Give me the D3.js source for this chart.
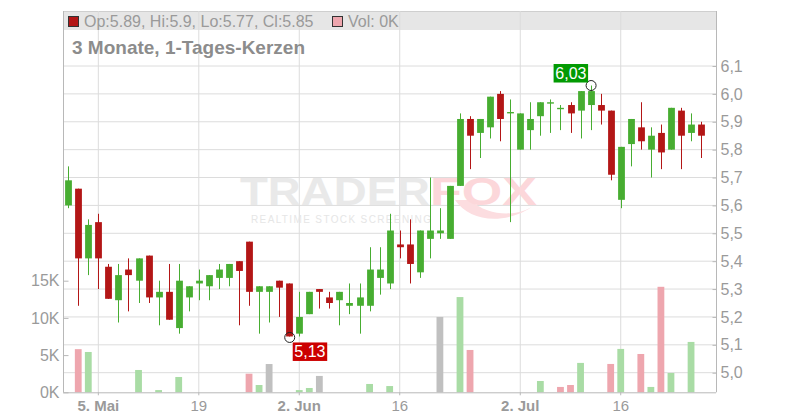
<!DOCTYPE html>
<html><head><meta charset="utf-8">
<script src="https://cdn.jsdelivr.net/npm/d3@7"></script>
<style>body{margin:0;background:#fff}svg{display:block;font-family:"Liberation Sans",Arial,sans-serif}</style>
</head><body><svg id="c" width="800" height="420"></svg>
<script>
const dates = ["2025-04-30","2025-05-01","2025-05-02","2025-05-05","2025-05-06","2025-05-07","2025-05-08","2025-05-09",
"2025-05-12","2025-05-13","2025-05-14","2025-05-15","2025-05-16","2025-05-19","2025-05-20","2025-05-21","2025-05-22","2025-05-23",
"2025-05-26","2025-05-27","2025-05-28","2025-05-29","2025-05-30","2025-06-02","2025-06-03","2025-06-04","2025-06-05","2025-06-06",
"2025-06-09","2025-06-10","2025-06-11","2025-06-12","2025-06-13","2025-06-16","2025-06-17","2025-06-18","2025-06-19","2025-06-20",
"2025-06-23","2025-06-24","2025-06-25","2025-06-26","2025-06-27","2025-06-30","2025-07-01","2025-07-02","2025-07-03","2025-07-04",
"2025-07-07","2025-07-08","2025-07-09","2025-07-10","2025-07-11","2025-07-14","2025-07-15","2025-07-16","2025-07-17","2025-07-18",
"2025-07-21","2025-07-22","2025-07-23","2025-07-24","2025-07-25","2025-07-28"];
const opens = [5.60,5.66,5.41,5.54,5.38,5.26,5.37,5.33,5.42,5.27,5.29,5.16,5.27,5.32,5.31,5.34,5.34,5.40,5.47,5.29,5.29,5.33,5.32,5.14,5.21,5.30,5.27,5.26,5.24,5.24,5.24,5.34,5.32,5.46,5.46,5.36,5.48,5.50,5.48,5.67,5.91,5.86,5.88,6.00,5.93,5.80,5.87,5.92,5.965,5.945,5.96,5.94,5.96,5.96,5.94,5.62,5.82,5.88,5.80,5.86,5.80,5.94,5.86,5.89];
const highs = [5.74,5.66,5.55,5.57,5.39,5.39,5.41,5.41,5.42,5.33,5.39,5.39,5.31,5.37,5.35,5.39,5.39,5.40,5.47,5.31,5.31,5.33,5.32,5.29,5.29,5.30,5.29,5.29,5.32,5.32,5.45,5.45,5.57,5.51,5.55,5.51,5.70,5.59,5.67,5.93,5.92,5.91,5.99,6.01,5.98,5.93,5.97,5.97,5.98,5.96,5.97,6.01,6.03,6.00,5.94,5.81,5.91,5.97,5.88,5.89,5.95,5.95,5.93,5.90];
const lows = [5.59,5.24,5.35,5.30,5.265,5.18,5.22,5.25,5.25,5.17,5.19,5.14,5.22,5.26,5.26,5.30,5.31,5.17,5.24,5.14,5.18,5.20,5.13,5.13,5.21,5.23,5.23,5.17,5.21,5.14,5.22,5.28,5.30,5.41,5.32,5.34,5.41,5.48,5.48,5.67,5.73,5.77,5.84,5.83,5.54,5.80,5.80,5.85,5.86,5.87,5.86,5.84,5.87,5.89,5.69,5.59,5.74,5.80,5.70,5.73,5.80,5.73,5.83,5.77];
const closes = [5.69,5.41,5.53,5.41,5.265,5.35,5.35,5.41,5.27,5.29,5.19,5.33,5.31,5.33,5.35,5.37,5.39,5.365,5.29,5.31,5.31,5.305,5.13,5.20,5.29,5.29,5.25,5.29,5.25,5.27,5.37,5.37,5.51,5.45,5.39,5.51,5.51,5.51,5.67,5.91,5.85,5.91,5.99,5.91,5.935,5.93,5.91,5.97,5.97,5.95,5.93,6.01,6.01,5.94,5.71,5.81,5.91,5.83,5.85,5.79,5.95,5.85,5.89,5.85];
const volumes = [0,5800,5420,0,0,0,0,3000,0,300,0,2060,0,0,0,0,0,0,2500,980,3800,0,0,300,580,2200,0,0,0,0,1120,0,840,0,0,0,0,10130,0,12800,5690,0,0,0,0,0,0,1520,0,720,980,3950,0,0,3810,5830,0,5150,720,14180,2600,0,6770,0];
const priceTicks = [5.0,5.1,5.2,5.3,5.4,5.5,5.6,5.7,5.8,5.9,6.0,6.1];
const volumeTicks = [0,5000,10000,15000];
const xTickDates = ["2025-05-05","2025-05-19","2025-06-02","2025-06-16","2025-07-02","2025-07-16"];
const xTickLabels = ["5. Mai","19","2. Jun","16","2. Jul","16"];

const svg = d3.select("#c");
const L = 63, R = 716, B = 392.3, T = 11;
const x = d3.scalePoint().domain(dates).range([68.2, 701.1]);
const y = d3.scaleLinear().domain([5.0, 6.1]).range([372.7, 66]);
const yv = d3.scaleLinear().domain([0, 15000]).range([B, 280.7]);
const RED = "#b31616", GREEN = "#47ad31";
const grid = "#dcdcdc", axisC = "#b8b8b8", txt = "#9a9a9a";

// header bar
svg.append("rect").attr("x", L).attr("y", T).attr("width", R - L).attr("height", 19).attr("fill", "#e6e6e6");
svg.append("line").attr("x1", L).attr("x2", R).attr("y1", T + 0.5).attr("y2", T + 0.5).attr("stroke", "#cfcfcf");

// vertical grid
svg.append("g").selectAll("line").data(xTickDates).join("line")
  .attr("x1", d => x(d)).attr("x2", d => x(d)).attr("y1", T).attr("y2", B)
  .attr("stroke", grid).attr("stroke-width", 1);
// horizontal grid
svg.append("g").selectAll("line").data(priceTicks).join("line")
  .attr("x1", L).attr("x2", R).attr("y1", d => y(d)).attr("y2", d => y(d))
  .attr("stroke", grid).attr("stroke-width", 1);

// watermark
const wm = svg.append("g");
wm.append("text").attr("x", 240).attr("y", 205).attr("font-size", 38).attr("font-weight", "bold")
  .attr("fill", "#e9e9e9").attr("textLength", 190).attr("lengthAdjust", "spacingAndGlyphs").text("TRADER");
wm.append("path").attr("d", "M455,200 C470,222 505,226 535,205 C520,216 490,218 470,200 Z").attr("fill", "#fcdde0");
wm.append("text").attr("x", 430).attr("y", 205).attr("font-size", 38).attr("font-weight", "bold")
  .attr("fill", "#fcd7da").attr("textLength", 107).attr("lengthAdjust", "spacingAndGlyphs").text("FOX");
wm.append("text").attr("x", 251).attr("y", 223).attr("font-size", 10)
  .attr("fill", "#e6e6e6").attr("textLength", 180).attr("lengthAdjust", "spacing").text("REALTIME STOCK SCREENING");

// volume bars
const vcol = (i) => {
  if (i === 0) return GREEN;
  const a = closes[i].toFixed(3), b = closes[i - 1].toFixed(3);
  return a === b ? "#c0c0c0" : (closes[i] > closes[i - 1] ? "#a9dca5" : "#eea6ae");
};
svg.append("g").selectAll("rect").data(volumes.map((v, i) => ({v, i})).filter(d => d.v > 0)).join("rect")
  .attr("x", d => x(dates[d.i]) - 3.4).attr("width", 6.8)
  .attr("y", d => yv(d.v)).attr("height", d => B - yv(d.v))
  .attr("fill", d => vcol(d.i));

// candles
const cg = svg.append("g").selectAll("g").data(dates).join("g");
cg.append("line")
  .attr("x1", d => Math.round(x(d)) + 0.5).attr("x2", d => Math.round(x(d)) + 0.5)
  .attr("y1", (d, i) => y(highs[i])).attr("y2", (d, i) => y(lows[i]))
  .attr("stroke", (d, i) => closes[i] >= opens[i] ? GREEN : RED).attr("stroke-width", 1);
cg.append("rect")
  .attr("x", d => Math.round(x(d)) + 0.5 - 3.4).attr("width", 6.8)
  .attr("y", (d, i) => y(Math.max(opens[i], closes[i])))
  .attr("height", (d, i) => Math.max(1.2, Math.abs(y(opens[i]) - y(closes[i]))))
  .attr("fill", (d, i) => closes[i] >= opens[i] ? GREEN : RED);

// axes lines
svg.append("line").attr("x1", L + 0.5).attr("x2", L + 0.5).attr("y1", T).attr("y2", B).attr("stroke", axisC);
svg.append("line").attr("x1", R + 0.5).attr("x2", R + 0.5).attr("y1", T).attr("y2", B).attr("stroke", axisC);
svg.append("line").attr("x1", L).attr("x2", R).attr("y1", B + 0.5).attr("y2", B + 0.5).attr("stroke", axisC);

// right axis
const ra = svg.append("g").attr("transform", `translate(${R + 0.5},0)`)
  .call(d3.axisRight(y).tickValues(priceTicks).tickSizeInner(-4).tickSizeOuter(0).tickPadding(4)
    .tickFormat(d => d.toFixed(1).replace(".", ",")));
ra.select(".domain").remove();
ra.selectAll("line").attr("stroke", axisC);
ra.selectAll("text").attr("fill", txt).attr("font-size", 16).attr("font-family", "Liberation Sans, Arial, sans-serif");

// left axis
const la = svg.append("g").attr("transform", `translate(${L + 0.5},0)`)
  .call(d3.axisLeft(yv).tickValues(volumeTicks).tickSizeInner(-5).tickSizeOuter(0).tickPadding(4)
    .tickFormat(d => (d / 1000) + "K"));
la.select(".domain").remove();
la.selectAll("line").attr("stroke", axisC);
la.selectAll("text").attr("fill", txt).attr("font-size", 16).attr("font-family", "Liberation Sans, Arial, sans-serif");

// bottom labels
svg.append("g").selectAll("line").data(xTickDates).join("line")
  .attr("x1", d => x(d)).attr("x2", d => x(d)).attr("y1", B).attr("y2", B + 3).attr("stroke", axisC);
svg.append("g").selectAll("text").data(xTickDates).join("text")
  .attr("x", d => x(d)).attr("y", 411).attr("text-anchor", "middle")
  .attr("font-size", 15).attr("fill", txt)
  .attr("font-weight", (d, i) => /[A-Za-z]/.test(xTickLabels[i]) ? "bold" : "normal")
  .text((d, i) => xTickLabels[i]);

// header legend
const last = dates.length - 1;
svg.append("rect").attr("x", 68.5).attr("y", 16.5).attr("width", 10).attr("height", 10)
  .attr("fill", closes[last] >= opens[last] ? GREEN : RED).attr("stroke", "#333");
svg.append("text").attr("x", 84).attr("y", 27).attr("font-size", 16).attr("fill", txt)
  .text(`Op:${opens[last]}, Hi:${highs[last].toFixed(1)}, Lo:${lows[last]}, Cl:${closes[last]}`);
svg.append("rect").attr("x", 332.5).attr("y", 16.5).attr("width", 10).attr("height", 10)
  .attr("fill", "#eea6ae").attr("stroke", "#333");
svg.append("text").attr("x", 348).attr("y", 27).attr("font-size", 16).attr("fill", txt)
  .text(`Vol: ${Math.round(volumes[last] / 1000)}K`);

svg.append("text").attr("x", 72).attr("y", 54.3).attr("font-size", 19).attr("font-weight", "bold")
  .attr("fill", "#8c8c8c").text("3 Monate, 1-Tages-Kerzen");

// max / min markers
const iMax = d3.maxIndex(highs), iMin = d3.minIndex(lows);
const fmt = v => v.toFixed(2).replace(".", ",");
const mx = x(dates[iMax]) + 0.5, my = y(highs[iMax]);
svg.append("circle").attr("cx", mx).attr("cy", my).attr("r", 5).attr("fill", "none").attr("stroke", "#222");
svg.append("rect").attr("x", mx - 37.5).attr("y", my - 21.5).attr("width", 34.5).attr("height", 18.5).attr("fill", "#029a02");
svg.append("text").attr("x", mx - 20.2).attr("y", my - 6.5).attr("text-anchor", "middle").attr("font-size", 16)
  .attr("fill", "#fff").text(fmt(highs[iMax]));
const nx = x(dates[iMin]) + 0.5, ny = y(lows[iMin]);
svg.append("circle").attr("cx", nx).attr("cy", ny + 1).attr("r", 5).attr("fill", "none").attr("stroke", "#222");
svg.append("rect").attr("x", nx + 3).attr("y", ny + 6).attr("width", 34.5).attr("height", 18.5).attr("fill", "#cc0000");
svg.append("text").attr("x", nx + 20.2).attr("y", ny + 21).attr("text-anchor", "middle").attr("font-size", 16)
  .attr("fill", "#fff").text(fmt(lows[iMin]));
</script></body></html>
